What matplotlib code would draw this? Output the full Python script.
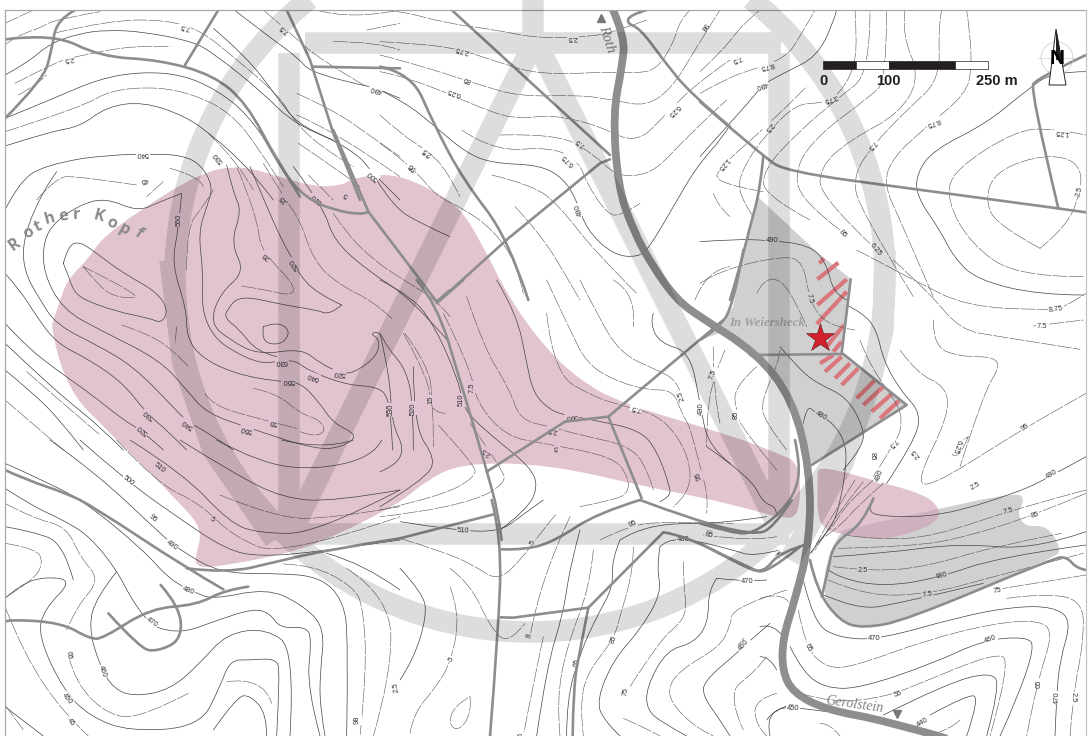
import numpy as np
import matplotlib
matplotlib.use("Agg")
import matplotlib.pyplot as plt
from matplotlib.path import Path
from matplotlib.patches import PathPatch, Polygon, Rectangle, Circle

# ---------------- map data (traced from the sheet, as zoom-crop coordinates) ----------------
# each group: crop origin (x, y) and polylines measured at 3x in that crop
Z1 = (700, 0); Z2 = (700, 250); Z3 = (0, 130); Z4 = (0, 0); Z5 = (380, 0)
Z6 = (380, 280); Z7 = (0, 440); Z8 = (400, 500); Z9 = (760, 560)

solid_contours = [
 (Z4, [(15,225),(80,190),(150,130),(240,100),(320,90),(430,95),(580,125),(640,160),(780,270),(890,380),(1000,420)]),
 (Z4, [(15,355),(150,300),(300,235),(430,215),(550,225),(650,270),(740,340),(830,470),(900,590)]),
 (Z4, [(15,438),(150,395),(240,380),(320,320),(430,305),(560,350),(640,410),(720,480),(790,560),(820,600)]),
 (Z4, [(700,28),(820,120),(890,170),(940,225),(1110,260)]),
 (Z4, [(1140,270),(1200,295)]),
 (Z4, [(640,85),(740,170),(830,290),(890,370),(1000,420),(1080,470),(1110,510),(1135,535),(1200,600)]),
 (Z3, [(15,240),(55,160),(130,105),(250,85)]),
 (Z3, [(250,85),(330,75),(450,72),(540,75),(600,100),(640,170),(620,230),(595,310),(610,430),(605,540),(640,620),(700,665),(780,700),(830,695),(885,690),(925,722),(1040,765),(1130,770),(1165,800),(1175,900),(1178,960)]),
 (Z3, [(170,125),(130,180),(70,320),(70,420),(120,510),(170,585),(300,650),(400,710),(500,810),(560,875),(620,905),(700,960)]),
 (Z3, [(15,430),(60,480),(110,560),(170,640),(270,690),(370,760),(440,850),(500,900),(560,960)]),
 (Z3, [(15,580),(80,650),(170,720),(270,790),(370,870),(430,905),(490,960)]),
 (Z3, [(15,640),(100,720),(200,810),(300,890),(370,960)]),
 (Z3, [(15,720),(100,790),(180,870),(250,960)]),
 (Z3, [(545,190),(535,300),(515,400),(560,540),(560,620),(600,680),(700,730),(830,755),(900,755),(960,820),(1000,880),(1075,915),(1030,950),(950,960),(750,895),(620,850),(560,780),(480,690),(300,600),(190,540),(130,430),(130,330),(170,270),(250,220),(320,205),(415,245),(480,215),(545,190)]),
 (Z3, [(190,400),(205,345),(240,335),(290,370),(370,430),(470,485),(505,540),(485,580),(450,565),(350,545),(240,505),(215,470),(205,435),(190,400)]),
 (Z3, [(680,105),(700,190),(725,240),(692,340),(735,425),(660,490),(630,580),(690,630),(775,675),(905,655),(960,700),(1020,728),(1060,730),(1130,680),(1140,630),(1110,610),(1140,605),(1160,650),(1220,720),(1240,830),(1240,960)]),
 (Z3, [(1025,525),(990,555),(950,540),(850,525),(720,495),(680,540),(675,565),(720,600),(770,665),(830,680)]),
 (Z3, [(790,590),(830,575),(870,600),(855,635),(820,645),(785,630),(790,590)]),
 (Z3, [(750,110),(800,230),(850,340),(880,390),(895,430),(950,490),(1025,525)]),
 (Z3, [(880,110),(970,230),(1000,330),(1100,420),(1240,510),(1350,640)]),
 (Z3, [(1130,150),(1180,230),(1260,280),(1350,320)]),
 (Z6, [(0,0),(100,50),(170,150),(230,290),(245,350),(260,400),(350,480),(450,560),(475,620),(440,690),(360,750)]),
 (Z6, [(350,0),(410,100),(440,250),(460,340),(510,390),(555,405),(640,420),(780,450),(830,510),(870,620),(870,650),(840,665)]),
 (Z6, [(100,260),(100,440),(170,540),(130,600),(0,680)]),
 (Z6, [(0,160),(30,290),(35,430),(75,510),(40,560),(0,575)]),
 (Z6, [(820,100),(810,130),(840,190),(930,215),(960,370),(985,500),(1050,550)]),
 (Z5, [(0,270),(80,310),(160,375),(260,460),(340,490),(480,495),(550,535),(590,600),(620,690),(700,765),(775,772),(810,740),(880,620),(950,500),(1030,410),(1050,375)]),
 (Z1, [(0,470),(80,380),(170,280),(185,255),(260,215),(350,170),(400,70),(410,30)]),
 (Z1, [(1150,885),(1020,885),(830,840),(760,770),(720,690),(650,590),(650,520),(700,450),(860,370),(980,270),(1060,215),(1158,215)]),
 (Z1, [(0,725),(100,718),(200,720),(330,735),(380,790),(400,880),(440,900)]),
 (Z2, [(440,165),(490,190),(530,240),(550,330),(600,420),(665,490),(640,580),(560,700)]),
 (Z2, [(1158,620),(1050,680),(960,725),(720,800),(540,800),(500,780),(520,745)]),
 (Z2, [(1158,845),(1000,900),(780,880),(550,910),(400,920)]),
 (Z2, [(385,960),(420,985),(550,1010),(710,985),(900,920),(1158,885)]),
 (Z2, [(360,1030),(470,1080),(600,1060),(850,1000)]),
 (Z2, [(310,520),(320,465),(350,490),(400,520),(435,575),(440,640),(420,760),(400,820),(370,860),(330,910)]),
 (Z2, [(240,290),(290,350),(350,400),(440,440),(490,530),(490,590),(430,660)]),
 (Z2, [(20,590),(150,680),(190,760),(230,770),(230,800)]),
 (Z7, [(150,0),(290,100),(490,290),(540,330),(660,400),(830,400),(960,410),(1030,480),(1045,600),(1040,888)]),
 (Z7, [(15,70),(150,130),(260,190),(430,330),(510,420),(590,460),(640,478),(800,445),(900,490),(975,560),(960,700),(960,800),(975,888)]),
 (Z7, [(15,145),(100,200),(190,240),(270,290),(350,390),(390,470),(440,540),(470,565),(550,578),(640,545),(760,505),(810,520),(840,565),(920,560),(935,600),(920,740),(960,888)]),
 (Z7, [(350,395),(290,470),(265,560),(300,680),(340,745),(400,770),(510,750),(600,670),(680,580),(800,565),(885,630),(870,888)]),
 (Z7, [(15,475),(60,435),(130,410),(220,420),(130,510),(115,590),(190,750),(270,830),(390,875),(600,860),(660,740),(690,660),(750,660),(830,655),(840,700),(830,888)]),
 (Z7, [(15,260),(100,275),(190,310),(220,420)]),
 (Z7, [(640,870),(710,770),(750,765),(800,820),(800,888)]),
 (Z7, [(15,800),(130,888)]),
 (Z7, [(240,0),(370,115),(530,230),(680,330),(780,350),(960,335),(1200,300)]),
 (Z7, [(390,0),(550,100),(690,250),(780,280),(950,280),(1200,150)]),
 (Z7, [(540,0),(700,100),(850,175),(1000,185),(1200,150)]),
 (Z7, [(650,0),(780,70),(950,90),(1120,50),(1145,0)]),
 (Z7, [(845,0),(970,30),(1060,0)]),
 (Z7, [(980,340),(1090,370),(1200,450)]),
 (Z8, [(0,205),(70,280),(80,350),(40,480),(0,540)]),
 (Z8, [(540,90),(510,200),(490,340),(440,500),(410,708)]),
 (Z8, [(660,120),(635,180),(640,260),(590,350),(540,460),(500,600),(500,708)]),
 (Z8, [(780,140),(770,200),(785,280),(720,390),(640,480),(590,600),(610,660),(660,708)]),
 (Z8, [(950,235),(925,270),(925,370),(880,430),(800,450),(740,560),(740,630),(790,670),(860,708)]),
 (Z8, [(1110,370),(1040,430),(1010,460),(910,545),(910,590),(960,660),(990,708)]),
 (Z8, [(1180,615),(1140,620),(1100,660),(1110,708)]),
 (Z8, [(1100,240),(1040,245),(950,235)]),
 (Z8, [(0,65),(170,92),(300,95),(360,50),(430,0)]),
 (Z8, [(660,120),(700,95),(800,70),(970,70),(1100,50)]),
 (Z8, [(780,140),(800,120),(870,118),(1000,150),(1060,170),(1140,150)]),
 (Z9, [(130,60),(160,190),(240,235),(360,238),(600,170),(760,140),(880,140),(935,180),(900,300),(890,400),(885,528)]),
 (Z9, [(90,260),(130,340),(200,385),(300,385),(520,310),(670,240),(800,230),(825,260),(770,420),(720,528)]),
 (Z9, [(370,465),(560,370),(695,335),(720,380),(680,528)]),
 (Z9, [(510,465),(620,405),(660,410),(620,528)]),
 (Z9, [(20,480),(50,440),(130,445),(200,455)]),
 (Z9, [(0,200),(40,190),(70,230)]),
 (Z9, [(0,290),(30,290),(50,330)]),
]

dashed_contours = [
 (Z4, [(15,70),(100,30)]),
 (Z4, [(15,135),(45,110),(130,80),(160,60),(300,35)]),
 (Z4, [(45,250),(180,180),(230,170),(400,135),(510,140)]),
 (Z4, [(55,285),(110,255),(140,225)]),
 (Z4, [(160,100),(330,60),(500,60),(600,90),(700,170),(840,290),(880,360),(960,440),(1060,500)]),
 (Z4, [(15,395),(250,320),(330,270),(480,260),(600,290),(690,340),(760,420),(850,560)]),
 (Z4, [(625,400),(710,480),(760,570)]),
 (Z4, [(790,30),(860,90),(960,180),(1100,260)]),
 (Z4, [(890,280),(1000,330),(1100,400),(1200,470)]),
 (Z4, [(890,345),(1000,390),(1200,530)]),
 (Z4, [(895,430),(1000,500),(1080,560)]),
 (Z4, [(950,30),(1050,60),(1200,30)]),
 (Z4, [(1100,90),(1200,70)]),
 (Z4, [(1000,125),(1130,125),(1200,150)]),
 (Z4, [(925,525),(1000,600)]),
 (Z4, [(510,505),(600,530),(610,560)]),
 (Z4, [(490,545),(440,590)]),
 (Z4, [(110,600),(170,530),(230,530),(340,545),(410,555)]),
 (Z3, [(250,410),(290,460),(340,500),(410,505),(400,490),(330,450),(250,410)]),
 (Z3, [(365,585),(440,610),(520,660),(565,710)]),
 (Z3, [(530,590),(525,640)]),
 (Z3, [(560,420),(560,290),(610,230),(640,180)]),
 (Z3, [(725,468),(800,480),(860,495),(885,485),(870,450),(820,400),(780,345),(775,290),(740,180),(710,110)]),
 (Z3, [(790,100),(850,200),(900,270),(940,390),(1010,460),(1130,520),(1180,570)]),
 (Z3, [(1000,250),(1040,310),(1120,390),(1210,450),(1310,510),(1350,560)]),
 (Z3, [(760,775),(830,790),(900,850),(960,870),(978,905),(940,920),(900,905)]),
 (Z3, [(615,790),(635,825),(770,865),(890,895)]),
 (Z3, [(1215,610),(1280,700),(1300,800),(1300,950)]),
 (Z3, [(80,725),(200,830),(300,915)]),
 (Z3, [(15,810),(120,900),(190,960)]),
 (Z6, [(260,50),(310,200),(390,330),(420,420),(510,440),(600,465),(760,500),(810,590),(820,630)]),
 (Z6, [(190,100),(270,260),(290,370),(380,470),(490,490),(700,530),(745,590),(745,640),(700,660),(600,680)]),
 (Z6, [(70,160),(150,300),(150,400),(200,400)]),
 (Z6, [(175,435),(280,550),(290,590),(180,650),(0,690)]),
 (Z6, [(270,430),(370,570),(375,610),(290,660),(100,700),(0,710)]),
 (Z6, [(500,0),(570,150),(620,250),(700,300),(800,330),(880,330),(905,400),(930,440),(960,560),(985,650),(980,700)]),
 (Z6, [(600,0),(650,100),(720,220),(830,270),(890,300),(905,345)]),
 (Z6, [(500,100),(520,280),(640,350),(720,375),(850,410),(930,530),(930,640),(880,680)]),
 (Z6, [(1000,200),(1000,340),(1020,430)]),
 (Z6, [(700,0),(770,40),(760,140)]),
 (Z5, [(0,30),(60,32),(200,70),(350,90),(470,115),(640,110),(720,90),(800,60)]),
 (Z5, [(0,125),(100,130),(230,145),(350,185),(480,225),(700,215),(760,220),(830,210),(880,130),(900,60),(930,30)]),
 (Z5, [(0,165),(100,190),(300,255),(420,290),(600,285),(700,300),(800,320),(880,260),(950,140),(1020,30)]),
 (Z5, [(0,215),(100,235),(350,345),(430,355),(520,345),(650,375),(770,433),(860,340),(950,250),(1050,180)]),
 (Z5, [(0,345),(60,400),(145,455),(200,510),(240,590)]),
 (Z5, [(245,390),(340,455),(520,440),(600,490),(620,550),(680,640),(720,650),(780,610)]),
 (Z5, [(360,405),(540,400),(650,470),(700,520),(760,530),(830,510),(930,400),(1040,300)]),
 (Z5, [(335,525),(460,555),(540,620),(640,750),(770,880)]),
 (Z5, [(405,620),(480,700),(560,830),(600,900)]),
 (Z5, [(0,430),(95,498),(170,590),(250,625),(340,690),(410,790),(430,880)]),
 (Z5, [(945,900),(980,810),(1050,800)]),
 (Z5, [(1000,580),(1015,620),(1050,650)]),
 (Z1, [(0,215),(70,150),(130,70),(180,30)]),
 (Z1, [(0,280),(90,230),(170,205),(260,170),(300,110),(345,30)]),
 (Z1, [(190,575),(42,550),(60,500),(200,380),(320,260)]),
 (Z1, [(160,650),(110,580),(130,500),(200,400),(290,310),(370,310),(420,280),(465,200),(470,100),(465,30)]),
 (Z1, [(330,660),(190,585),(190,510),(290,400),(420,290),(510,220),(510,30)]),
 (Z1, [(420,690),(300,600),(285,500),(360,400),(510,290),(560,240),(560,30)]),
 (Z1, [(520,740),(360,590),(360,500),(450,420),(600,340),(660,230),(605,100),(615,30)]),
 (Z1, [(640,890),(480,630),(458,530),(515,440),(620,330),(720,240),(715,80),(725,30)]),
 (Z1, [(700,890),(600,660),(550,550),(580,470),(680,380),(800,280),(815,200),(810,100),(800,30)]),
 (Z1, [(1150,830),(950,830),(810,730),(740,600),(760,510),(950,390),(1060,385),(1158,405)]),
 (Z1, [(1020,745),(900,680),(855,610),(880,520),(1000,470),(1100,470),(1145,510),(1140,580),(1100,680),(1020,745)]),
 (Z2, [(0,100),(60,60),(260,15),(310,40),(325,130),(350,190),(400,230),(465,240)]),
 (Z2, [(170,130),(190,90),(240,85),(290,160),(320,230)]),
 (Z2, [(480,270),(510,350),(600,470),(605,530),(590,570),(520,680)]),
 (Z2, [(600,300),(650,370),(740,410),(745,500),(650,690),(690,712),(925,565),(1000,520),(1158,430)]),
 (Z2, [(700,210),(700,290),(780,320),(880,320),(900,350),(850,430),(780,650)]),
 (Z2, [(470,0),(640,90),(800,170),(1040,180),(1090,175),(1158,130)]),
 (Z2, [(580,30),(690,130),(780,240),(900,260),(1140,298)]),
 (Z2, [(1000,228),(1150,210)]),
 (Z2, [(805,560),(780,620),(750,615),(770,580),(805,560)]),
 (Z2, [(1158,720),(950,775),(700,860),(540,870),(430,855)]),
 (Z2, [(1158,730),(1005,795),(800,860),(640,890),(410,895)]),
 (Z2, [(400,950),(520,965),(680,950),(880,890),(1085,850)]),
 (Z2, [(385,990),(500,1040),(700,1030),(860,985),(1150,910)]),
 (Z2, [(880,1020),(1158,975)]),
 (Z2, [(170,350),(100,410),(110,490),(130,540),(230,660)]),
 (Z2, [(240,300),(235,340),(185,450),(190,510),(260,600)]),
 (Z2, [(75,300),(40,380),(20,500),(20,590)]),
 (Z2, [(520,690),(440,760),(400,830),(350,880)]),
 (Z2, [(490,695),(430,770),(385,835),(345,900)]),
 (Z2, [(465,690),(415,770),(370,840),(335,910)]),
 (Z2, [(550,700),(470,770),(420,830),(360,870)]),
 (Z7, [(350,0),(470,130),(600,190),(700,290),(850,350),(1200,230)]),
 (Z7, [(660,165),(830,235),(1000,235),(1200,200)]),
 (Z7, [(15,190),(100,235),(200,260),(240,350),(300,420),(230,500),(200,570)]),
 (Z7, [(15,310),(110,325),(130,370),(100,420),(20,470)]),
 (Z7, [(15,500),(70,640),(190,820),(265,888)]),
 (Z7, [(15,795),(70,870)]),
 (Z7, [(205,645),(225,730),(330,830),(430,830),(565,760)]),
 (Z7, [(680,725),(790,710),(815,790)]),
 (Z7, [(850,372),(940,375),(1060,440),(1090,500),(1100,700),(1080,888)]),
 (Z7, [(1040,385),(1170,470),(1175,700),(1120,888)]),
 (Z8, [(0,115),(130,155),(220,195),(295,245),(370,170),(405,120),(470,40)]),
 (Z8, [(150,205),(210,250),(270,380),(325,435),(375,370)]),
 (Z8, [(150,260),(180,340),(155,480),(110,560),(40,640),(30,700)]),
 (Z8, [(210,590),(215,640),(175,695),(145,670),(165,615),(210,590)]),
 (Z8, [(430,410),(390,600),(370,708)]),
 (Z8, [(510,50),(420,240),(390,410)]),
 (Z8, [(580,150),(570,260),(500,440),(470,600),(480,708)]),
 (Z8, [(700,140),(700,210),(660,350),(640,420),(560,520),(540,620),(550,708)]),
 (Z8, [(850,185),(850,240),(860,330),(840,370),(780,420),(690,560)]),
 (Z8, [(1160,270),(1000,320),(990,380),(960,440),(840,510),(800,570),(830,630),(900,690),(940,708)]),
 (Z8, [(1100,470),(1060,520),(980,580),(1030,690)]),
 (Z8, [(1130,580),(1060,600),(1070,680),(1100,708)]),
 (Z8, [(670,655),(750,690),(780,708)]),
 (Z8, [(600,120),(690,75),(800,65),(1000,70)]),
 (Z8, [(910,105),(1060,125),(1130,110)]),
 (Z9, [(115,150),(135,260),(200,325),(280,320),(500,240),(700,190),(840,180),(880,220),(830,370),(800,528)]),
 (Z9, [(740,115),(850,100),(970,120),(970,250),(940,400),(930,528)]),
 (Z9, [(120,400),(220,430),(380,410),(480,370),(700,280),(755,300),(690,528)]),
 (Z9, [(600,480),(570,510),(500,528)]),
 (Z9, [(180,490),(210,490),(240,528)]),
 (Z9, [(0,115),(80,90),(100,150)]),
]

# curved tracks
roads = [
 (Z4, [(15,118),(160,100),(300,170),(480,180),(640,225),(740,310),(830,480),(900,590)]),
 (Z3, [(780,0),(850,130),(920,205),(1000,240),(1090,255),(1105,245)]),
 (Z4, [(940,200),(1200,205)]),
 (Z4, [(225,30),(170,60),(155,150),(130,240),(15,355)]),
 (Z5, [(0,200),(95,220),(160,370),(250,540),(385,715),(445,900)]),
 (Z5, [(800,30),(750,45),(740,70),(780,85),(850,180),(930,280),(1050,380)]),
 (Z1, [(0,305),(190,470),(260,515),(640,567),(1075,625),(1158,637)]),
 (Z1, [(1075,625),(990,270),(1010,235),(1158,165)]),
 (Z1, [(190,470),(180,570),(150,680),(120,800),(90,900)]),
 (Z2, [(130,0),(100,170),(50,240),(0,270)]),
 (Z2, [(285,570),(300,640),(290,720),(240,790),(160,850),(100,850),(0,820)]),
 (Z2, [(330,880),(240,905),(190,970),(130,950),(0,880)]),
 (Z2, [(520,745),(490,820),(400,880),(385,960),(365,1040)]),
 (Z2, [(330,930),(350,1020),(420,1115),(490,1135),(620,1110),(1060,925),(1100,920),(1130,955),(1158,960)]),
 (Z6, [(110,0),(170,70),(240,300),(320,570),(355,700),(365,780)]),
 (Z8, [(275,0),(305,110),(295,400),(270,708)]),
 (Z8, [(305,148),(380,150),(470,120),(590,40),(720,0)]),
 (Z8, [(720,0),(880,60),(1060,105),(1120,85),(1175,0)]),
 (Z8, [(565,323),(540,450),(520,560),(518,708)]),
 (Z8, [(790,97),(850,105),(1050,205),(1100,222),(1200,140)]),
 (Z7, [(15,90),(80,120),(200,160),(280,200),(560,385),(670,448)]),
 (Z7, [(560,385),(680,400),(830,365),(980,330),(1200,295)]),
 (Z7, [(745,440),(675,450),(590,495),(450,505),(310,595),(270,597),(185,548),(25,538),(15,545)]),
 (Z7, [(482,435),(540,500),(545,600),(470,635),(420,625),(325,520)]),
]
# straight tracks with sharp junctions
straight_roads = [
 (Z3, [(1000,0),(1105,245),(1310,515)]),
 (Z3, [(1310,515),(1350,480)]),
 (Z4, [(860,30),(930,180),(1000,400),(1080,600)]),
 (Z4, [(555,195),(655,30)]),
 (Z5, [(215,30),(690,465)]),
 (Z5, [(690,478),(660,490),(385,715),(180,900)]),
 (Z2, [(452,88),(425,310)]),
 (Z2, [(150,315),(430,312),(620,465),(335,645)]),
 (Z6, [(170,70),(250,0)]),
 (Z6, [(555,425),(685,410),(1030,120)]),
 (Z6, [(555,425),(320,575)]),
 (Z6, [(685,410),(785,655)]),
 (Z8, [(0,115),(285,42)]),
 (Z8, [(300,352),(340,353),(565,323),(790,97)]),
]

main_road = [(613,10),(625,37),(622,67),(613,113),(618,187),(633,230),(653,267),(677,300),(700,317),(757,353),(793,400),(810,470),(810,540),(795,600),(783,637),(782,670),(793,693),(827,710),(883,720),(945,738)]

pink_main = [(52,325),(62,293),(70,277),(90,257),(100,240),(140,210),(200,173),(240,165),(283,178),(317,187),(343,185),(353,178),(393,173),(433,190),(460,208),(480,240),(510,300),(547,350),(580,380),(620,403),(730,435),(777,453),(800,463),(800,517),(780,518),(753,510),(700,497),(647,487),(547,464),(460,463),(423,483),(400,503),(333,537),(290,553),(217,567),(197,567),(195,557),(203,530),(180,503),(117,440),(60,383)]
pink_east = [(818,470),(823,466),(883,483),(920,493),(938,505),(940,520),(913,533),(880,540),(843,535),(818,527),(817,483)]
gray_north = [(758,197),(818,253),(851,279),(842,353),(907,405),(812,465),(800,430),(775,375),(720,333),(700,340),(717,330),(733,307),(743,250)]
gray_south = [(843,530),(933,510),(1017,492),(1025,500),(1017,513),(1025,527),(1047,525),(1062,550),(1053,558),(907,620),(863,628),(840,622),(822,597),(828,550)]

hatch_segments = [
 [(358,40),(372,25)],[(352,88),(415,38)],[(352,165),(440,88)],[(350,222),(440,125)],[(380,290),(432,225)],
 [(400,305),(425,275)],[(360,340),(400,315)],[(375,365),(425,320)],[(405,385),(450,340)],[(425,405),(475,355)],
 [(470,445),(525,390)],[(490,465),(550,410)],[(515,485),(575,432)],[(540,505),(597,452)],
]

contour_labels = [
 (Z4,555,78,"7.5",168),(Z4,205,175,"2.5",190),(Z4,855,85,"7.5",140),(Z4,1128,265,"490",165),(Z4,428,462,"540",180),(Z4,433,540,"45",195),
 (Z4,655,472,"530",130),(Z4,1120,525,"500",140),(Z4,1040,583,"5",150),
 (Z3,538,270,"550",90),(Z3,800,375,"26",140),(Z3,885,400,"520",125),(Z3,850,205,"15",130),(Z3,950,205,"510",140),(Z3,845,695,"630",180),
 (Z3,865,752,"550",180),(Z3,940,740,"640",160),(Z3,1018,728,"520",175),(Z3,1172,840,"530",90),(Z3,1240,835,"520",90),(Z3,1292,810,"15",90),
 (Z3,820,875,"55",170),(Z3,740,897,"550",165),(Z3,562,880,"540",145),(Z3,447,852,"530",140),(Z3,430,898,"520",140),(Z3,1237,110,"58",140),(Z3,1280,65,"2.5",140),
 (Z5,578,113,"2.5",180),(Z5,248,150,"2.75",165),(Z5,263,237,"85",160),(Z5,223,277,"6.25",160),(Z5,600,428,"7.5",145),(Z5,565,480,"6.75",135),
 (Z5,143,455,"2.5",145),(Z5,97,498,"95",135),(Z5,597,630,"490",110),(Z5,880,330,"6.25",225),(Z5,970,80,"98",235),
 (Z1,110,175,"7.5",205),(Z1,200,195,"8.75",195),(Z1,185,255,"490",200),(Z1,390,295,"3.75",200),(Z1,205,380,"2.5",230),(Z1,70,490,"1.25",230),
 (Z1,515,435,"7.5",230),(Z1,700,365,"8.75",200),(Z1,1085,397,"1.25",175),(Z1,1140,575,"2.5",75),(Z1,215,720,"490",0),(Z1,428,703,"85",-45),(Z1,525,750,"6.25",-50),
 (Z2,328,145,"7.5",-75),(Z2,42,370,"7.5",80),(Z2,108,495,"85",90),(Z2,3,470,"490",-90),(Z2,362,497,"480",-30),(Z2,578,580,"7.5",-130),(Z2,515,618,"85",-90),
 (Z2,538,678,"490",70),(Z2,648,610,"2.5",130),(Z2,825,707,"2.5",30),(Z2,975,532,"95",35),(Z2,770,590,"6.25",250),(Z2,1068,178,"8.75",8),(Z2,1025,228,"7.5",0),
 (Z2,1055,675,"490",30),(Z2,925,785,"7.5",15),(Z2,1005,795,"85",20),(Z2,490,962,"2.5",0),(Z2,725,978,"480",15),(Z2,682,1033,"7.5",10),(Z2,893,1022,"75",10),
 (Z2,140,995,"470",0),(Z2,240,917,"75",40),(Z2,28,853,"85",-5),(Z2,522,1167,"470",0),(Z2,872,1168,"460",20),(Z2,130,1180,"460",50),(Z2,325,1190,"65",-60),
 (Z6,275,322,"7.5",90),(Z6,245,360,"510",90),(Z6,152,360,"15",90),(Z6,100,385,"520",90),(Z6,33,390,"530",90),(Z6,320,515,"2.5",145),(Z6,518,450,"2.5",170),
 (Z6,530,502,"5",165),(Z6,575,408,"560",185),(Z6,768,382,"7.5",170),(Z6,905,348,"2.5",110),(Z6,965,385,"490",90),(Z6,1000,285,"7.5",70),(Z6,957,588,"95",110),
 (Z7,478,85,"510",-40),(Z7,385,122,"500",-40),(Z7,458,235,"95",-40),(Z7,638,240,"5",-30),(Z7,515,315,"490",-35),(Z7,565,453,"480",-20),(Z7,455,548,"470",-35),
 (Z7,307,695,"460",-70),(Z7,205,645,"65",-85),(Z7,202,775,"450",-50),(Z7,212,848,"45",-50),(Z7,1072,840,"98",90),(Z7,1190,740,"2.5",100),
 (Z8,190,92,"510",-3),(Z8,400,128,"5",70),(Z8,697,72,"95",25),(Z8,928,105,"85",-10),(Z8,850,118,"480",0),(Z8,1140,165,"75",45),(Z8,390,408,"8",80),
 (Z8,155,478,"5",60),(Z8,642,420,"85",70),(Z8,532,488,"65",80),(Z8,677,575,"75",80),(Z8,1030,437,"460",50),(Z8,1180,625,"450",-5),(Z8,365,705,"5",90),
 (Z9,145,265,"65",-60),(Z9,836,370,"65",90),(Z9,893,413,"470",90),(Z9,938,413,"2.5",-90),(Z9,413,403,"55",20),(Z9,100,447,"450",0),(Z9,487,487,"440",30),
]

rother_letters = ["R","o","t","h","e","r","K","o","p","f"]
rother_x = [45,85,115,150,190,230,295,335,372,415]
rother_y = [345,310,290,265,258,255,260,280,300,310]
rother_rot = [35,30,25,15,8,0,-15,-25,-30,-35]

scale_edges = [0, 50, 100, 200, 250]
scale_fill = ["#231f20", "white", "#231f20", "white"]
scale_ticks = ["0", "100", "250 m"]

# emblem behind the map
ring_center = (530, 277); ring_radius = 355
emblem_lines = [
 [(305,43),(781,43)],[(289,53),(289,534)],[(779,53),(779,534)],[(281,534),(789,534)],
 [(170,260),(183,363),(213,450),(275,540)],[(535,40),(290,535)],[(535,40),(780,530)],
 [(885,250),(883,330),(870,383),(843,463),(790,560)],[(533,0),(533,50)],
]

# ---------------- drawing ----------------
W, H = 1092, 736
LEFT, TOP, RIGHT = 4.5, 9.5, 1085.5
fig = plt.figure(figsize=(W/100, H/100), dpi=100, facecolor="white")
ax = fig.add_axes([0, 0, 1, 1])
ax.set_xlim(0, W); ax.set_ylim(H, 0); ax.axis("off")
clip = Rectangle((LEFT, TOP), RIGHT-LEFT, H-TOP, transform=ax.transData)

def conv(origin, pts):
    a = np.asarray(pts, float) / 3.0
    return a + np.asarray(origin, float)

def smooth_path(a):
    if len(a) < 3:
        return Path(a)
    v = [a[0]]; c = [Path.MOVETO]
    for i in range(1, len(a)-1):
        m = (a[i] + a[i+1]) / 2
        v += [a[i], m if i < len(a)-2 else a[-1]]
        c += [Path.CURVE3, Path.CURVE3]
    return Path(np.array(v), c)

def draw(path, z, **kw):
    p = PathPatch(path, fill=False, zorder=z, capstyle="round", joinstyle="round", **kw)
    ax.add_patch(p); p.set_clip_path(clip)
    return p

GRAY = "#d0d0d0"; PINK_INK = "#cf9bb2"; PINK_ALPHA = 0.6
ax.add_patch(Polygon(np.array(gray_north, float), closed=True, fc=GRAY, ec="none", zorder=1))
ax.add_patch(PathPatch(smooth_path(np.array(gray_south + [gray_south[0]], float)), fc=GRAY, ec="none", zorder=1))
for pts in (pink_main, pink_east):
    ax.add_patch(PathPatch(smooth_path(np.array(pts + [pts[0]], float)), fc=PINK_INK, ec="none", alpha=PINK_ALPHA, zorder=1.5))
polys = [(Path(np.array(gray_north, float)), GRAY), (Path(np.array(gray_south, float)), GRAY),
         (Path(np.array(pink_main, float)), "#e2c3d1"), (Path(np.array(pink_east, float)), "#e2c3d1")]

for seg in hatch_segments:
    a = conv(Z2, seg)
    ax.plot(a[:, 0], a[:, 1], color="#d9777c", lw=3.0, zorder=2, solid_capstyle="butt")

for org, pts in solid_contours:
    draw(smooth_path(conv(org, pts)), 3, edgecolor="#444444", lw=0.5)
for org, pts in dashed_contours:
    draw(smooth_path(conv(org, pts)), 3, edgecolor="#555555", lw=0.4, linestyle=(0, (26, 3)))

def bg_at(x, y):
    for path, col in reversed(polys):
        if path.contains_point((x, y)):
            return col
    return "white"

for org, zx, zy, s, rot in contour_labels:
    x, y = conv(org, [(zx, zy)])[0]
    if x < LEFT or x > RIGHT or y < TOP or y > H:
        continue
    ax.text(x, y, s, fontsize=5.4, family="Liberation Sans", color="#333333", rotation=rot,
            ha="center", va="center", rotation_mode="anchor", zorder=4,
            bbox=dict(fc=bg_at(x, y), ec="none", pad=0.5))

for org, pts in roads:
    draw(smooth_path(conv(org, pts)), 5, edgecolor="#8d8d8f", lw=1.9)
for org, pts in straight_roads:
    draw(Path(conv(org, pts)), 5, edgecolor="#8d8d8f", lw=1.9)
draw(smooth_path(np.array(main_road, float)), 6, edgecolor="#8e8e91", lw=5.6)

# place names
for ch, zx, zy, rot in zip(rother_letters, rother_x, rother_y, rother_rot):
    x, y = conv(Z3, [(zx, zy)])[0]
    ax.text(x, y, ch, fontsize=11.5, family="Open Sans", weight="bold", color="#8a8a8c", rotation=rot,
            ha="center", va="center", rotation_mode="anchor", zorder=7)
ax.text(767, 323, "In Weiersheck", fontsize=9.3, family="Liberation Serif", style="italic", weight="bold",
        color="#a0a0a2", ha="center", va="center", zorder=7)
ax.text(607, 39, "Roth", fontsize=10.5, family="Liberation Serif", style="italic", color="#808082",
        rotation=-72, ha="center", va="center", rotation_mode="anchor", zorder=7)
ax.text(855, 705, "Gerolstein", fontsize=10, family="Liberation Serif", style="italic", color="#808082",
        rotation=-8, ha="center", va="center", rotation_mode="anchor", zorder=7)
ax.plot([601], [18], marker="^", ms=6, color="#77777a", zorder=7, ls="none")
ax.plot([897], [714], marker="v", ms=6, color="#77777a", zorder=7, ls="none")

ax.plot([820], [338], marker="*", ms=21, mfc="#d2202c", mec="#5a1a20", mew=0.4, zorder=8, ls="none")

# frame
ax.plot([LEFT, LEFT], [H, TOP], color="#a8a8a8", lw=0.9, zorder=9)
ax.plot([LEFT, RIGHT], [TOP, TOP], color="#a8a8a8", lw=0.9, zorder=9)
ax.plot([RIGHT, RIGHT], [TOP, H], color="#c4c4c4", lw=0.9, zorder=9)

# emblem: one compound path so its strokes do not darken each other
th = np.radians(np.arange(0, 361, 2))
ring = np.c_[ring_center[0] + ring_radius*np.cos(th), ring_center[1] + ring_radius*np.sin(th)]
verts, codes = [], []
for line in [ring] + [np.array(l, float) for l in emblem_lines]:
    verts.extend(line); codes.extend([Path.MOVETO] + [Path.LINETO]*(len(line)-1))
ax.add_patch(PathPatch(Path(np.array(verts), codes), fill=False, edgecolor="black", alpha=0.135,
                       lw=15.5, capstyle="butt", joinstyle="round", zorder=10))

# scale bar
x0 = 823.3; px_per_m = (988-823.3)/250
for a, b, c in zip(scale_edges[:-1], scale_edges[1:], scale_fill):
    ax.add_patch(Rectangle((x0+a*px_per_m, 61), (b-a)*px_per_m, 8.3, fc=c, ec="#231f20", lw=0.5, zorder=11))
for tx, s, ha in [(823, scale_ticks[0], "center"), (888, scale_ticks[1], "center"), (976.5, scale_ticks[2], "left")]:
    ax.text(tx, 81, s, fontsize=10.5, family="Liberation Sans", weight="bold", color="#231f20", ha=ha, va="center", zorder=11)

# north arrow
ax.add_patch(Circle((1057, 58), 16, fc="none", ec="#c8c8c8", lw=0.5, zorder=11))
ax.plot([1038, 1076], [58, 58], color="#c8c8c8", lw=0.4, zorder=11)
ax.plot([1057, 1057], [40, 76], color="#c8c8c8", lw=0.4, zorder=11)
ax.add_patch(Polygon([(1056, 29), (1049, 85), (1066, 85)], closed=True, fc="white", ec="#231f20", lw=0.7, zorder=11))
ax.add_patch(Polygon([(1056, 29), (1056, 60), (1062, 60)], closed=True, fc="#231f20", ec="none", zorder=11))
ax.text(1057.5, 59, "N", fontsize=15, family="Liberation Sans", weight="bold", color="black", ha="center", va="center", zorder=12)

fig.savefig("out.png", dpi=100, facecolor="white")
